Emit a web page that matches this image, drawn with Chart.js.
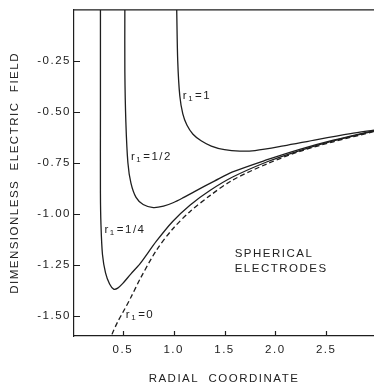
<!DOCTYPE html>
<html>
<head>
<meta charset="utf-8">
<script src="https://cdn.jsdelivr.net/npm/chart.js@4.4.1/dist/chart.umd.min.js"></script>
<style>
  html, body { margin: 0; padding: 0; background: #fff; }
  #wrap { width: 374px; height: 387px; position: relative; }
</style>
</head>
<body>
<div id="wrap"><canvas id="chart-field"></canvas></div>
<script>
/* Axis ticks */
var X_TICKS = [0.5, 1.0, 1.5, 2.0, 2.5];
var Y_TICKS = [-1.5, -1.25, -1.0, -0.75, -0.5, -0.25];

/* r1 = 1 */
var r1OneX = [1.03, 1.04, 1.06, 1.09, 1.13, 1.19, 1.27, 1.37, 1.5, 1.65, 1.8, 2.08, 2.41, 2.74, 2.97];
var r1OneY = [0, -0.25, -0.42, -0.51, -0.565, -0.61, -0.642, -0.668, -0.686, -0.693, -0.69, -0.667, -0.636, -0.607, -0.59];

/* r1 = 1/2 */
var r1HalfX = [0.52, 0.52, 0.53, 0.55, 0.58, 0.63, 0.70, 0.80, 0.90, 1.0, 1.1, 1.2, 1.3, 1.4, 1.58, 1.92, 2.24, 2.57, 2.97];
var r1HalfY = [0, -0.3, -0.55, -0.75, -0.85, -0.92, -0.955, -0.97, -0.963, -0.945, -0.92, -0.893, -0.866, -0.84, -0.795, -0.735, -0.684, -0.639, -0.592];

/* r1 = 1/4 */
var r1QuarterX = [0.28, 0.28, 0.28, 0.285, 0.30, 0.33, 0.37, 0.41, 0.45, 0.50, 0.58, 0.67, 0.83, 0.99, 1.16, 1.36, 1.58, 1.92, 2.24, 2.57, 2.97];
var r1QuarterY = [0, -0.5, -0.9, -1.05, -1.2, -1.29, -1.345, -1.37, -1.365, -1.342, -1.295, -1.245, -1.135, -1.038, -0.958, -0.885, -0.82, -0.745, -0.69, -0.643, -0.595];

/* r1 = 0 (dashed) */
var r1ZeroX = [0.38, 0.39, 0.45, 0.50, 0.58, 0.67, 0.83, 0.99, 1.16, 1.36, 1.58, 1.92, 2.24, 2.57, 2.97];
var r1ZeroY = [-1.63, -1.597, -1.53, -1.485, -1.41, -1.32, -1.18, -1.075, -0.99, -0.91, -0.835, -0.755, -0.694, -0.647, -0.597];

var FONT = "'Liberation Sans', Arial, sans-serif";
var INK = '#1e1e1e';
var TEXT = '#222';

function toPoints(xs, ys) {
  return xs.map(function(x, i) { return { x: x, y: ys[i] }; });
}

function curve(label, xs, ys, dash) {
  return {
    label: label,
    data: toPoints(xs, ys),
    showLine: true,
    borderColor: INK,
    borderWidth: 1.3,
    borderDash: dash || [],
    pointRadius: 0,
    tension: 0.3,
    fill: false
  };
}

/* Draws "r1=..." with a subscript 1 */
function drawR1(ctx, px, py, value) {
  ctx.font = '11.5px ' + FONT;
  ctx.textBaseline = 'middle';
  ctx.textAlign = 'left';
  ctx.fillText('r', px, py);
  var w = ctx.measureText('r').width;
  ctx.font = '8px ' + FONT;
  ctx.fillText('1', px + w, py + 3);
  var w2 = ctx.measureText('1').width;
  ctx.font = '11.5px ' + FONT;
  ctx.fillText('=' + value, px + w + w2 + 1, py);
}

var spacingPlugin = {
  id: 'spacing',
  beforeDraw: function(chart) {
    chart.ctx.letterSpacing = '1.5px';
  }
};

var framePlugin = {
  id: 'frame',
  afterDraw: function(chart) {
    var ctx = chart.ctx;
    var area = chart.chartArea;
    var xs = chart.scales.x;
    var ys = chart.scales.y;
    ctx.save();
    ctx.strokeStyle = INK;
    ctx.lineWidth = 1.2;
    ctx.beginPath();
    /* top line */
    ctx.moveTo(area.left, area.top);
    ctx.lineTo(area.right, area.top);
    /* inward ticks */
    X_TICKS.forEach(function(v) {
      var px = Math.round(xs.getPixelForValue(v)) + 0.5;
      ctx.moveTo(px, area.bottom);
      ctx.lineTo(px, area.bottom - 5);
    });
    Y_TICKS.forEach(function(v) {
      var py = Math.round(ys.getPixelForValue(v)) + 0.5;
      ctx.moveTo(area.left, py);
      ctx.lineTo(area.left + 6, py);
    });
    ctx.stroke();

    /* curve labels */
    ctx.fillStyle = TEXT;
    drawR1(ctx, xs.getPixelForValue(1.09), ys.getPixelForValue(-0.42), '1');
    drawR1(ctx, xs.getPixelForValue(0.58), ys.getPixelForValue(-0.72), '1/2');
    drawR1(ctx, xs.getPixelForValue(0.32), ys.getPixelForValue(-1.08), '1/4');
    drawR1(ctx, xs.getPixelForValue(0.53), ys.getPixelForValue(-1.495), '0');
    ctx.font = '11.5px ' + FONT;
    ctx.fillText('SPHERICAL', xs.getPixelForValue(1.60), ys.getPixelForValue(-1.196));
    ctx.fillText('ELECTRODES', xs.getPixelForValue(1.60), ys.getPixelForValue(-1.27));
    ctx.restore();
  }
};

new Chart(document.getElementById('chart-field'), {
  type: 'scatter',
  data: {
    datasets: [
      curve('r1=1', r1OneX, r1OneY),
      curve('r1=1/2', r1HalfX, r1HalfY),
      curve('r1=1/4', r1QuarterX, r1QuarterY),
      curve('r1=0', r1ZeroX, r1ZeroY, [5, 3])
    ]
  },
  options: {
    responsive: true,
    maintainAspectRatio: false,
    animation: false,
    layout: { padding: { top: 6, right: 0, left: 0, bottom: 0 } },
    plugins: {
      legend: { display: false },
      tooltip: { enabled: false }
    },
    scales: {
      x: {
        type: 'linear',
        min: 0.02,
        max: 2.97,
        afterBuildTicks: function(scale) {
          scale.ticks = X_TICKS.map(function(v) { return { value: v }; });
        },
        afterFit: function(scale) { scale.height = 51; },
        grid: { display: false, drawTicks: false },
        border: { display: true, color: INK, width: 1.2 },
        ticks: {
          color: TEXT,
          font: { family: FONT, size: 11.5 },
          padding: 7,
          maxRotation: 0,
          callback: function(v) { return v.toFixed(1); }
        },
        title: {
          display: true,
          text: 'RADIAL  COORDINATE',
          color: TEXT,
          font: { family: FONT, size: 11.5 },
          padding: { top: 0, bottom: 1 }
        }
      },
      y: {
        type: 'linear',
        min: -1.6,
        max: 0,
        afterBuildTicks: function(scale) {
          scale.ticks = Y_TICKS.map(function(v) { return { value: v }; });
        },
        afterFit: function(scale) { scale.width = 74; },
        grid: { display: false, drawTicks: false },
        border: { display: true, color: INK, width: 1.2 },
        ticks: {
          color: TEXT,
          font: { family: FONT, size: 11.5 },
          padding: 3,
          callback: function(v) { return v.toFixed(2); }
        },
        title: {
          display: true,
          text: 'DIMENSIONLESS  ELECTRIC  FIELD',
          color: TEXT,
          font: { family: FONT, size: 11.5 },
          padding: { top: 8, bottom: 0 }
        }
      }
    }
  },
  plugins: [spacingPlugin, framePlugin]
});
</script>
</body>
</html>
